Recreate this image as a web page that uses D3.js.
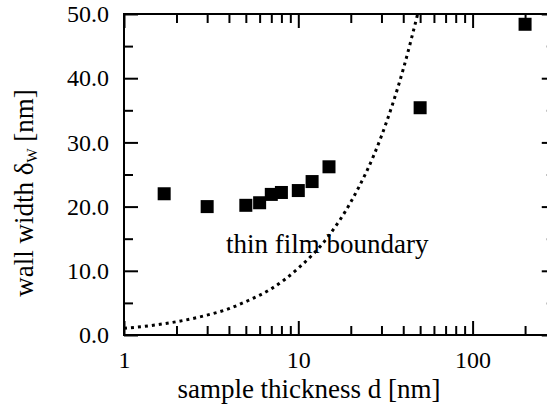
<!DOCTYPE html>
<html>
<head>
<meta charset="utf-8">
<script src="https://cdn.jsdelivr.net/npm/d3@7"></script>
<style>
  body { margin: 0; background: #fff; }
  svg { display: block; font-family: "Liberation Serif", "Times New Roman", serif; }
</style>
</head>
<body>
<svg id="chart" width="547" height="405"></svg>
<script>
// measured samples
const thickness = [1.7, 3, 5, 6, 7, 8, 10, 12, 15, 50, 200];
const wallWidth = [22.0, 20.0, 20.2, 20.6, 21.9, 22.2, 22.5, 23.9, 26.2, 35.4, 48.4];

// thin film boundary (dotted)
const boundaryD = [1, 1.5, 2, 3, 4, 5, 7, 10, 15, 20, 30, 40, 48.4];
const boundaryW = [1.04, 1.55, 2.07, 3.1, 4.1, 5.2, 7.2, 10.4, 15.5, 20.7, 31, 41.4, 50];

const xMajor = [1, 10, 100];
const xMinor = [2, 3, 4, 5, 6, 7, 8, 9, 20, 30, 40, 50, 60, 70, 80, 90, 200, 300];
const yMajor = [0, 10, 20, 30, 40, 50];
const yMinor = [5, 15, 25, 35, 45];

const mLeft = 124, mTop = 14, mBottom = 335;
const x = d3.scaleLog().domain([1, 300]).range([mLeft, mLeft + 174.3 * Math.log10(300)]);
const y = d3.scaleLinear().domain([0, 50]).range([mBottom, mTop]);
const mRight = x.range()[1];

const svg = d3.select("#chart");
svg.append("rect").attr("width", 547).attr("height", 405).attr("fill", "#fff");

svg.append("defs").append("clipPath").attr("id", "plot")
  .append("rect").attr("x", mLeft).attr("y", mTop).attr("width", mRight - mLeft).attr("height", mBottom - mTop);

// ticks (all inward)
function ticks(axis, tr, vals, size, labels) {
  const g = svg.append("g").attr("transform", tr)
    .call(axis.tickValues(vals).tickSize(-size).tickSizeOuter(0)
      .tickFormat(labels || ""));
  g.attr("font-family", null).attr("font-size", 24);
  g.select(".domain").remove();
  g.selectAll("line").attr("stroke", "#000").attr("stroke-width", 2);
  g.selectAll("text").attr("fill", "#000");
  return g;
}
const xl = ticks(d3.axisBottom(x), `translate(0,${mBottom})`, xMajor, 14, d3.format("d"));
xl.selectAll("text").attr("y", 16);
ticks(d3.axisBottom(x), `translate(0,${mBottom})`, xMinor, 9);
ticks(d3.axisTop(x), `translate(0,${mTop})`, xMajor, 14);
ticks(d3.axisTop(x), `translate(0,${mTop})`, xMinor, 9);

const yl = ticks(d3.axisLeft(y), `translate(${mLeft},0)`, yMajor, 14, d3.format(".1f"));
yl.selectAll("text").attr("x", -15);
ticks(d3.axisLeft(y), `translate(${mLeft},0)`, yMinor, 9);
ticks(d3.axisRight(y), `translate(${mRight},0)`, yMajor, 14);
ticks(d3.axisRight(y), `translate(${mRight},0)`, yMinor, 9);

// frame
svg.append("rect").attr("x", mLeft).attr("y", mTop)
  .attr("width", mRight - mLeft).attr("height", mBottom - mTop)
  .attr("fill", "none").attr("stroke", "#000").attr("stroke-width", 2);

// boundary curve
const line = d3.line().x(d => x(d[0])).y(d => y(d[1])).curve(d3.curveMonotoneX);
svg.append("path")
  .datum(d3.zip(boundaryD, boundaryW))
  .attr("clip-path", "url(#plot)")
  .attr("d", line)
  .attr("fill", "none").attr("stroke", "#000")
  .attr("stroke-width", 3).attr("stroke-dasharray", "3,4");

// data squares
const s = 13;
svg.append("g").selectAll("rect")
  .data(d3.zip(thickness, wallWidth))
  .join("rect")
  .attr("x", d => x(d[0]) - s / 2)
  .attr("y", d => y(d[1]) - s / 2)
  .attr("width", s).attr("height", s)
  .attr("fill", "#000");

// labels
svg.append("text")
  .attr("x", 226).attr("y", 253)
  .attr("font-size", 27)
  .text("thin film boundary");

svg.append("text")
  .attr("x", 309).attr("y", 398)
  .attr("text-anchor", "middle").attr("font-size", 27)
  .text("sample thickness d [nm]");

const yt = svg.append("text")
  .attr("transform", "translate(33,193) rotate(-90)")
  .attr("text-anchor", "middle").attr("font-size", 27);
yt.append("tspan").text("wall width δ");
yt.append("tspan").attr("font-size", 15).attr("dy", 4).text("W");
yt.append("tspan").attr("dy", -4).text(" [nm]");
</script>
</body>
</html>
